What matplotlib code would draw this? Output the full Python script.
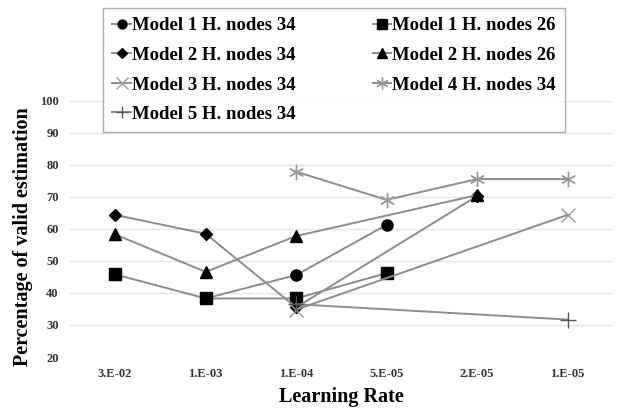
import numpy as np
import matplotlib
matplotlib.use('Agg')
import matplotlib.pyplot as plt

plt.rcParams['font.family'] = ['Liberation Serif', 'DejaVu Serif']
plt.rcParams['font.weight'] = 'bold'

rates = ['3.E-02', '1.E-03', '1.E-04', '5.E-05', '2.E-05', '1.E-05']
nan = np.nan
m1_34 = [nan, 38.3, 45.6, 61.3, nan, nan]
m1_26 = [45.8, 38.3, 38.3, 46.2, nan, nan]
m2_34 = [64.4, 58.5, 35.5, nan, 70.3, nan]
m2_26 = [58.3, 46.6, 57.8, nan, 70.6, nan]
m3_34 = [nan, nan, 34.8, nan, nan, 64.4]
m4_34 = [nan, nan, 77.9, 69.1, 75.6, 75.6]
m5_34 = [nan, nan, 36.5, nan, nan, 31.7]

series = [
    ('Model 1 H. nodes 34', m1_34, 'o', 'black', 8),
    ('Model 1 H. nodes 26', m1_26, 's', 'black', 8.5),
    ('Model 2 H. nodes 34', m2_34, 'D', 'black', 6.5),
    ('Model 2 H. nodes 26', m2_26, '^', 'black', 8.5),
    ('Model 3 H. nodes 34', m3_34, 'x', '#999999', 10),
    ('Model 4 H. nodes 34', m4_34, (6, 2, 0), '#999999', 11),
    ('Model 5 H. nodes 34', m5_34, '+', '#555555', 11),
]

fig = plt.figure(figsize=(6.19, 4.08), dpi=100)
ax = fig.add_axes([0.113, 0.125, 0.877, 0.6275])
x = np.arange(len(rates))
handles = {}
for name, vals, mk, mc, ms in series:
    v = np.array(vals, dtype=float)
    ok = ~np.isnan(v)
    h, = ax.plot(x[ok], v[ok], color='#8c8c8c', lw=1.4, marker=mk, ms=ms,
                 mfc=mc, mec=mc, mew=1.0, label=name)
    handles[name] = h

ax.set_xlim(-0.5, len(rates) - 0.5)
ax.set_ylim(20, 100)
ax.set_yticks(range(20, 101, 10))
ax.set_xticks(x)
ax.set_xticklabels(rates)
ax.grid(axis='y', color='#e6e6e6', lw=1)
ax.set_axisbelow(True)
for s in ax.spines.values():
    s.set_visible(False)
ax.tick_params(length=0, labelsize=9, labelcolor='#333333', pad=8)
ax.set_xlabel('Learning Rate', fontsize=14.5, fontweight='bold', labelpad=5)
ax.set_ylabel('Percentage of valid estimation', fontsize=14.5, fontweight='bold', labelpad=5)
ax.yaxis.label.set_y(0.47)

order = ['Model 1 H. nodes 34', 'Model 2 H. nodes 34', 'Model 3 H. nodes 34',
         'Model 5 H. nodes 34', 'Model 1 H. nodes 26', 'Model 2 H. nodes 26',
         'Model 4 H. nodes 34']
leg = fig.legend([handles[k] for k in order], order, ncol=2,
                 loc='upper left', bbox_to_anchor=(103 / 619, 1 - 8 / 408),
                 borderaxespad=0,
                 fontsize=13.5, frameon=True, fancybox=False, edgecolor='#999999',
                 handlelength=1.0, handletextpad=0.05, columnspacing=4.1,
                 labelspacing=0.66, borderpad=0.5, markerscale=0.8)
leg.get_frame().set_linewidth(1.0)
for t in leg.get_texts():
    t.set_fontweight('bold')

fig.savefig('out.png', dpi=100)
